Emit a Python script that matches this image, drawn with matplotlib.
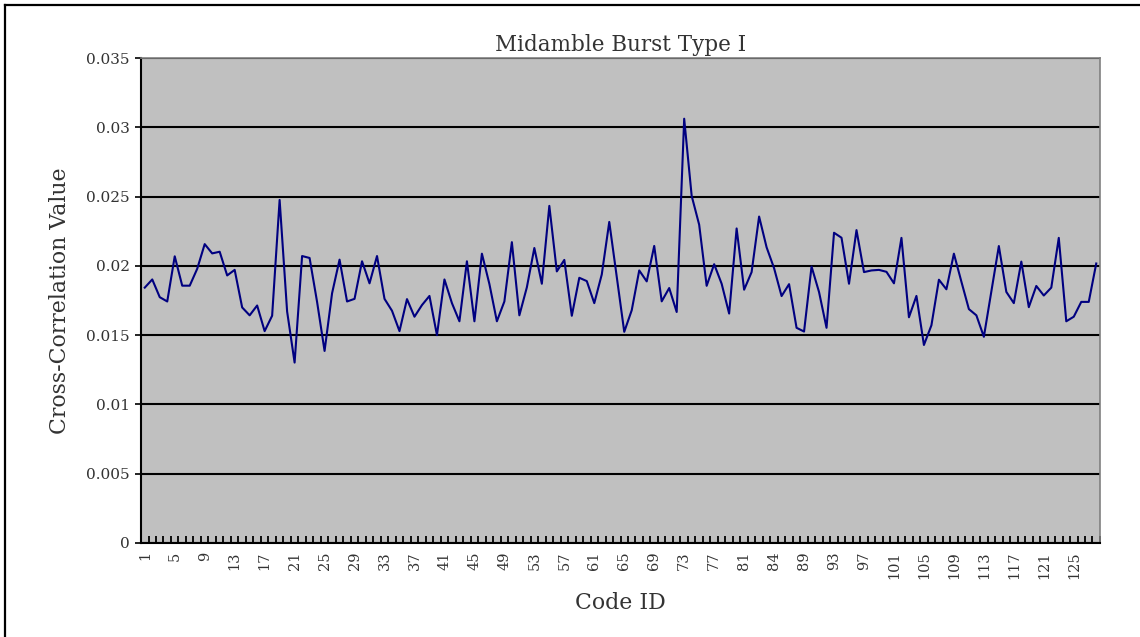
"""Midamble Burst Type I cross-correlation line chart."""

import matplotlib
matplotlib.use("Agg")
import matplotlib.pyplot as plt
from matplotlib.lines import Line2D
import numpy as np

code_ids = list(range(1, 129))
xcorr = [
    0.01843, 0.01902, 0.01774, 0.01743, 0.02069, 0.01857, 0.01857, 0.01979,
    0.02157, 0.02090, 0.02102, 0.01931, 0.01971, 0.01700, 0.01643, 0.01714,
    0.01529, 0.01640, 0.02476, 0.01671, 0.01302, 0.02071, 0.02057, 0.01740,
    0.01386, 0.01802, 0.02045, 0.01743, 0.01762, 0.02033, 0.01874, 0.02071,
    0.01762, 0.01676, 0.01529, 0.01760, 0.01633, 0.01717, 0.01783, 0.01500,
    0.01902, 0.01731, 0.01600, 0.02033, 0.01600, 0.02088, 0.01869, 0.01600,
    0.01743, 0.02171, 0.01643, 0.01845, 0.02129, 0.01871, 0.02433, 0.01960,
    0.02043, 0.01640, 0.01914, 0.01890, 0.01731, 0.01938, 0.02317, 0.01921,
    0.01524, 0.01680, 0.01967, 0.01888, 0.02144, 0.01744, 0.01840, 0.01667,
    0.03062, 0.02505, 0.02297, 0.01856, 0.02012, 0.01871, 0.01656, 0.02270,
    0.01828, 0.01955, 0.02356, 0.02134, 0.01983, 0.01782, 0.01868, 0.01553,
    0.01526, 0.01995, 0.01811, 0.01553, 0.02239, 0.02203, 0.01871, 0.02258,
    0.01955, 0.01967, 0.01971, 0.01957, 0.01874, 0.02202, 0.01629, 0.01783,
    0.01429, 0.01571, 0.01900, 0.01831, 0.02088, 0.01886, 0.01688, 0.01643,
    0.01488, 0.01814, 0.02143, 0.01812, 0.01731, 0.02031, 0.01702, 0.01855,
    0.01786, 0.01843, 0.02202, 0.01600, 0.01633, 0.01740, 0.01740, 0.02017,
]
# every 4th category is labelled; the source chart shows "84" where 85 would be
tick_ids = [1, 5, 9, 13, 17, 21, 25, 29, 33, 37, 41, 45, 49, 53, 57, 61,
            65, 69, 73, 77, 81, 85, 89, 93, 97, 101, 105, 109, 113, 117, 121, 125]
tick_labels = ["1", "5", "9", "13", "17", "21", "25", "29", "33", "37", "41",
               "45", "49", "53", "57", "61", "65", "69", "73", "77", "81", "84",
               "89", "93", "97", "101", "105", "109", "113", "117", "121", "125"]
y_ticks = [0, 0.005, 0.01, 0.015, 0.02, 0.025, 0.03, 0.035]
y_labels = ["0", "0.005", "0.01", "0.015", "0.02", "0.025", "0.03", "0.035"]

plt.rcParams["font.family"] = ["DejaVu Serif"]
TXT = "#333333"

fig = plt.figure(figsize=(11.4, 6.37), dpi=100)
fig.patch.set_facecolor("white")
ax = fig.add_axes([0.1237, 0.1476, 0.8412, 0.7613])
ax.set_facecolor("#c0c0c0")

# outer frame (only left/top edges visible in the source)
fig.add_artist(Line2D([0.0044, 0.0044], [0, 0.992], transform=fig.transFigure,
                      color="black", lw=1.6))
fig.add_artist(Line2D([0.0044, 1.0], [0.992, 0.992], transform=fig.transFigure,
                      color="black", lw=1.6))

ax.plot(code_ids, xcorr, color="#000080", lw=1.5, zorder=3)

ax.set_xlim(0.5, len(code_ids) + 0.5)
ax.set_ylim(0, 0.035)
ax.set_yticks(y_ticks)
ax.set_yticklabels(y_labels, fontsize=11, color=TXT)
ax.yaxis.grid(True, color="black", lw=1.5)
ax.set_axisbelow(True)

ax.set_xticks(tick_ids)
ax.set_xticklabels(tick_labels, rotation=90, fontsize=10.5, color=TXT)
ax.set_xticks(np.arange(0.5, len(code_ids) + 1, 1), minor=True)
ax.tick_params(axis="x", which="major", length=0, pad=6)
ax.tick_params(axis="x", which="minor", direction="in", length=5, width=1.3, color="black")
ax.tick_params(axis="y", length=4, width=1.2, color="black", pad=4)

for side in ("top", "right"):
    ax.spines[side].set_color("#808080")
    ax.spines[side].set_linewidth(1.2)
for side in ("left", "bottom"):
    ax.spines[side].set_color("black")
    ax.spines[side].set_linewidth(1.5)

ax.set_title("Midamble Burst Type I", fontsize=15.5, color=TXT, pad=5)
ax.set_ylabel("Cross-Correlation Value", fontsize=15.8, color=TXT, labelpad=11)
ax.set_xlabel("Code ID", fontsize=15.8, color=TXT, labelpad=9)

fig.savefig("out.png", dpi=100, facecolor="white")
